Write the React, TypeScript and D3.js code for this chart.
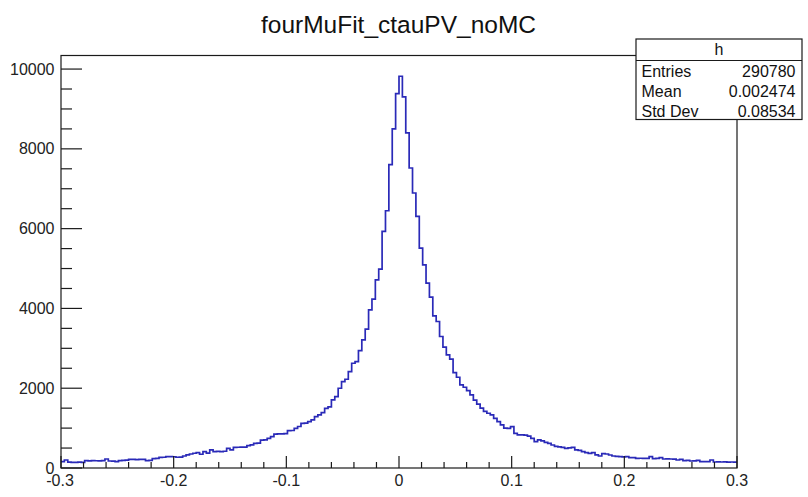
import React from "react";
import * as d3 from "d3";

const title = "fourMuFit_ctauPV_noMC";
const xMin = -0.3;
const xMax = 0.3;
const nBins = 200;
const yMax = 10340;

// bins 0..79
const leftTail = [
  158, 200, 145, 142, 140, 145, 140, 184, 180, 186,
  182, 180, 185, 226, 176, 172, 160, 185, 190, 195,
  215, 217, 212, 218, 215, 185, 190, 234, 240, 268,
  270, 284, 286, 282, 270, 275, 301, 330, 351, 370,
  385, 345, 410, 375, 452, 412, 415, 408, 420, 494,
  455, 515, 520, 525, 522, 560, 580, 615, 625, 700,
  705, 744, 786, 850, 853, 855, 860, 937, 940, 995,
  1040, 1121, 1125, 1160, 1205, 1288, 1330, 1389, 1497, 1530,
];
// bins 80..121
const core = [
  1706, 1790, 1999, 2166, 2225, 2417, 2626, 2668, 2944, 3212,
  3480, 3965, 4233, 4718, 4985, 5931, 6449, 7604, 8499, 9385,
  9820, 9301, 8398, 7520, 6893, 6307, 5512, 5094, 4634, 4283,
  3814, 3672, 3296, 3028, 2836, 2727, 2392, 2275, 2083, 2024,
  1941, 1832,
];
// bins 122..199
const rightTail = [
  1700, 1600, 1500, 1420, 1372, 1330, 1246, 1163,
  1079, 1000, 995, 1037, 870, 828, 830, 825, 800, 744,
  661, 703, 678, 640, 619, 577, 540, 530, 519, 494,
  505, 519, 452, 440, 410, 385, 368, 385, 330, 301,
  360, 351, 326, 301, 290, 284, 280, 284, 259, 262,
  243, 245, 240, 243, 284, 234, 240, 259, 226, 230,
  226, 222, 201, 217, 184, 190, 176, 180, 192, 159,
  162, 159, 201, 151, 155, 150, 152, 148, 150, 145,
];
const counts = [...leftTail, ...core, ...rightTail];

const xMajor = [-0.3, -0.2, -0.1, 0, 0.1, 0.2, 0.3];
const xLabels = ["-0.3", "-0.2", "-0.1", "0", "0.1", "0.2", "0.3"];
const yMajor = [0, 2000, 4000, 6000, 8000, 10000];
const yLabels = ["0", "2000", "4000", "6000", "8000", "10000"];

const statsName = "h";
const statsLabels = ["Entries", "Mean", "Std Dev"];
const statsValues = ["290780", "0.002474", "0.08534"];

export default function App() {
  const W = 808;
  const H = 497;
  const left = 61;
  const right = 737;
  const top = 55.5;
  const bottom = 468;

  const x = d3.scaleLinear().domain([xMin, xMax]).range([left, right]);
  const y = d3.scaleLinear().domain([0, yMax]).range([bottom, top]);

  const bw = (xMax - xMin) / nBins;
  const pts: [number, number][] = counts.map((c, i) => [xMin + i * bw, c]);
  pts.push([xMax, counts[counts.length - 1]]);
  const line = d3
    .line<[number, number]>()
    .x((d) => x(d[0]))
    .y((d) => y(d[1]))
    .curve(d3.curveStepAfter);

  const xMinor: number[] = [];
  for (let i = 0; i <= 30; i++) {
    const v = xMin + i * 0.02;
    if (i % 5 !== 0) xMinor.push(v);
  }
  const yMinor: number[] = [];
  for (let v = 500; v < yMax; v += 1000) yMinor.push(v);
  for (let v = 1000; v < yMax; v += 2000) yMinor.push(v);
  for (let v = 1500; v < yMax; v += 2000) {}

  const font = "'Liberation Sans', Arial, Helvetica, sans-serif";
  const frameColor = "#1a1a1a";

  const bx = 636;
  const bxr = 802;
  const by = 39;
  const byh = 60.5;
  const byb = 119.5;

  return (
    <svg
      width={W}
      height={H}
      style={{ position: "absolute", left: 0, top: 0, background: "#fff" }}
      fontFamily={font}
    >
      <rect x={0} y={0} width={W} height={H} fill="#fff" />
      <text x={398.5} y={33} fontSize={24.5} textAnchor="middle" fill="#111">
        {title}
      </text>

      {/* histogram */}
      <path d={line(pts) || ""} fill="none" stroke="#2a2ab8" strokeWidth={1.7} />

      {/* frame */}
      <rect
        x={left}
        y={top}
        width={right - left}
        height={bottom - top}
        fill="none"
        stroke={frameColor}
        strokeWidth={1.2}
      />

      {/* x ticks */}
      {xMajor.map((v, i) => (
        <line key={"xM" + i} x1={x(v)} x2={x(v)} y1={bottom} y2={bottom - 12} stroke={frameColor} strokeWidth={1.2} />
      ))}
      {xMinor.map((v, i) => (
        <line key={"xm" + i} x1={x(v)} x2={x(v)} y1={bottom} y2={bottom - 6} stroke={frameColor} strokeWidth={1.2} />
      ))}
      {xMajor.map((v, i) => (
        <text key={"xl" + i} x={x(v) - (i === 0 ? 1 : 0)} y={486} fontSize={16} textAnchor="middle" fill="#222">
          {xLabels[i]}
        </text>
      ))}

      {/* y ticks */}
      {yMajor.map((v, i) => (
        <line key={"yM" + i} x1={left} x2={left + 21} y1={y(v)} y2={y(v)} stroke={frameColor} strokeWidth={1.2} />
      ))}
      {yMinor.map((v, i) => (
        <line key={"ym" + i} x1={left} x2={left + 11} y1={y(v)} y2={y(v)} stroke={frameColor} strokeWidth={1.2} />
      ))}
      {yMajor.map((v, i) => (
        <text key={"yl" + i} x={54.5} y={y(v) + 5.5} fontSize={16} textAnchor="end" fill="#222">
          {yLabels[i]}
        </text>
      ))}

      {/* stats box */}
      <rect x={bx} y={by} width={bxr - bx} height={byb - by} fill="#fff" stroke={frameColor} strokeWidth={1.2} />
      <line x1={bx} x2={bxr} y1={byh} y2={byh} stroke={frameColor} strokeWidth={1.2} />
      <text x={(bx + bxr) / 2} y={55} fontSize={16} textAnchor="middle" fill="#111">
        {statsName}
      </text>
      {statsLabels.map((s, i) => (
        <text key={"sl" + i} x={641.5} y={76.7 + i * 20.3} fontSize={16} fill="#111">
          {s}
        </text>
      ))}
      {statsValues.map((s, i) => (
        <text key={"sv" + i} x={795.5} y={76.7 + i * 20.3} fontSize={16} textAnchor="end" fill="#111">
          {s}
        </text>
      ))}
    </svg>
  );
}
